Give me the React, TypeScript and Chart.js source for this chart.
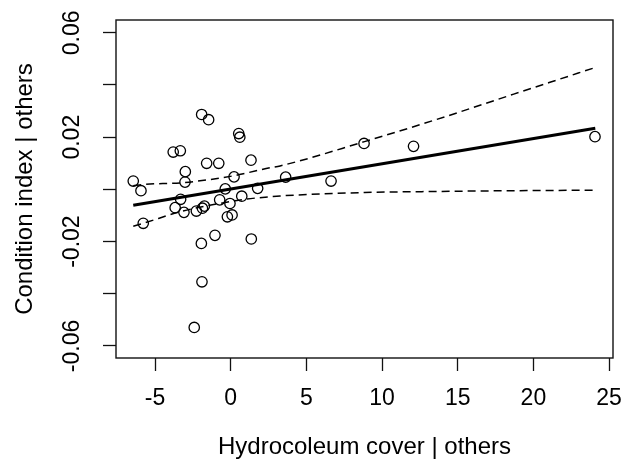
import React, { useEffect, useRef } from "react";
import { Chart, registerables } from "chart.js";

Chart.register(...registerables);

const X_TICKS = [-5, 0, 5, 10, 15, 20, 25];
const Y_TICKS = [-0.06, -0.04, -0.02, 0, 0.02, 0.04, 0.06];
const Y_TICK_LABELS = ["-0.06", "", "-0.02", "", "0.02", "", "0.06"];

const X_TITLE = "Hydrocoleum cover | others";
const Y_TITLE = "Condition index | others";

const POINT_X = [
  -6.44, -5.93, -5.78, -3.8, -3.33, -3.0, -3.02, -3.31, -3.67, -3.09,
  -2.27, -1.92, -1.46, -1.59, -1.74, -1.87, -0.79, -0.73, -0.36, -0.05,
  -0.22, 0.09, 0.22, 0.53, 0.6, 0.73, 1.34, 1.78, 3.63, -1.04,
  -1.94, 1.36, -1.9, -2.41, 6.63, 8.81, 12.08, 24.07,
];
const POINT_Y = [
  0.0032, -0.0005, -0.013, 0.0143, 0.0148, 0.0068, 0.0028, -0.0038, -0.007, -0.0088,
  -0.0083, 0.0287, 0.0267, 0.01, -0.0064, -0.0072, 0.01, -0.004, 0.0002, -0.0054,
  -0.0105, -0.0098, 0.0048, 0.0214, 0.02, -0.0026, 0.0112, 0.0004, 0.0047, -0.0176,
  -0.0207, -0.019, -0.0354, -0.0529, 0.0032, 0.0176, 0.0165, 0.0202,
];

const FIT_X = [-6.44, 24.09];
const FIT_Y = [-0.0061, 0.0234];

const BAND_X = [-6.44, -5.78, -3.3, -1.6, 0.17, 1.06, 2.6, 3.26, 8.84, 13.5, 18.7, 24.09];
const BAND_UPPER = [0.0014, 0.0019, 0.0025, 0.0036, 0.0052, 0.0063, 0.0083, 0.009, 0.0183, 0.0266, 0.0365, 0.0467];
const BAND_LOWER = [-0.0141, -0.013, -0.0085, -0.0063, -0.0045, -0.0037, -0.0028, -0.0025, -0.0012, -0.0008, -0.0005, -0.0003];

const FONT = "'Liberation Sans', Arial, Helvetica, sans-serif";

const toXY = (xs: number[], ys: number[]) => xs.map((x, i) => ({ x, y: ys[i] }));

const boxPlugin = {
  id: "boxPlugin",
  afterDraw(chart: any) {
    const { ctx, chartArea } = chart;
    ctx.save();
    ctx.strokeStyle = "#111";
    ctx.lineWidth = 1.4;
    ctx.strokeRect(chartArea.left, chartArea.top, chartArea.right - chartArea.left, chartArea.bottom - chartArea.top);
    ctx.restore();
  },
};

export default function App() {
  const ref = useRef<HTMLCanvasElement | null>(null);

  useEffect(() => {
    if (!ref.current) return;
    const chart = new Chart(ref.current, {
      type: "scatter",
      data: {
        datasets: [
          {
            label: "points",
            data: toXY(POINT_X, POINT_Y),
            pointStyle: "circle",
            pointRadius: 5.2,
            pointBackgroundColor: "rgba(0,0,0,0)",
            pointBorderColor: "#000",
            pointBorderWidth: 1.3,
            showLine: false,
          },
          {
            label: "fit",
            data: toXY(FIT_X, FIT_Y),
            showLine: true,
            borderColor: "#000",
            borderWidth: 3,
            pointRadius: 0,
          },
          {
            label: "upper",
            data: toXY(BAND_X, BAND_UPPER),
            showLine: true,
            borderColor: "#000",
            borderWidth: 1.5,
            borderDash: [8, 5],
            pointRadius: 0,
            cubicInterpolationMode: "monotone",
          },
          {
            label: "lower",
            data: toXY(BAND_X, BAND_LOWER),
            showLine: true,
            borderColor: "#000",
            borderWidth: 1.5,
            borderDash: [8, 5],
            pointRadius: 0,
            cubicInterpolationMode: "monotone",
          },
        ],
      },
      options: {
        responsive: false,
        animation: false,
        devicePixelRatio: 1,
        layout: { padding: { left: 0, right: 9, top: 20, bottom: 0 } },
        plugins: {
          legend: { display: false },
          tooltip: { enabled: false },
        },
        scales: {
          x: {
            type: "linear",
            position: "bottom",
            min: -7.58,
            max: 25.26,
            afterBuildTicks: (scale: any) => {
              scale.ticks = X_TICKS.map((v) => ({ value: v }));
            },
            afterFit: (scale: any) => {
              scale.height = 102;
              scale.paddingLeft = 0;
              scale.paddingRight = 0;
            },
            grid: {
              display: true,
              drawOnChartArea: false,
              drawTicks: true,
              tickLength: 13,
              tickColor: "#111",
              tickWidth: 1.3,
            },
            border: { display: false },
            ticks: {
              color: "#000",
              padding: 14,
              maxRotation: 0,
              minRotation: 0,
              font: { family: FONT, size: 23 },
              callback: (v: any) => String(v),
            },
            title: {
              display: true,
              text: X_TITLE,
              color: "#000",
              font: { family: FONT, size: 24, lineHeight: 1 },
              padding: { top: 0, bottom: 1 },
            },
          },
          y: {
            type: "linear",
            position: "left",
            min: -0.0646,
            max: 0.0649,
            afterBuildTicks: (scale: any) => {
              scale.ticks = Y_TICKS.map((v) => ({ value: v }));
            },
            afterFit: (scale: any) => {
              scale.width = 116;
              scale.paddingTop = 0;
              scale.paddingBottom = 0;
            },
            grid: {
              display: true,
              drawOnChartArea: false,
              drawTicks: true,
              tickLength: 13,
              tickColor: "#111",
              tickWidth: 1.3,
            },
            border: { display: false },
            ticks: {
              color: "#000",
              padding: 4,
              minRotation: 90,
              maxRotation: 90,
              crossAlign: "center",
              font: { family: FONT, size: 23 },
              callback: (_v: any, i: number) => Y_TICK_LABELS[i],
            },
            title: {
              display: true,
              text: Y_TITLE,
              color: "#000",
              font: { family: FONT, size: 24, lineHeight: 1 },
              padding: { top: 13, bottom: 0 },
            },
          },
        },
      },
      plugins: [boxPlugin],
    } as any);
    return () => chart.destroy();
  }, []);

  return (
    <div style={{ position: "fixed", left: 0, top: 0, width: 622, height: 460, background: "#fff" }}>
      <canvas ref={ref} width={622} height={460} style={{ width: 622, height: 460, display: "block" }} />
    </div>
  );
}
